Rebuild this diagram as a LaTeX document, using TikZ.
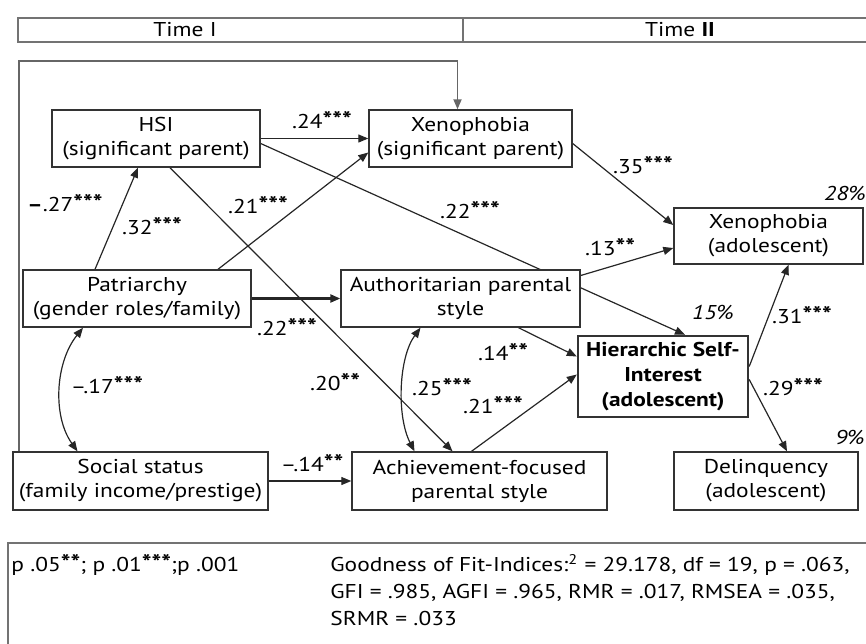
\documentclass[tikz,border=0pt]{standalone}
\usepackage{fontspec}
\setmainfont{PT Sans}[FakeStretch=1.17]
\usetikzlibrary{arrows.meta}
\usetikzlibrary{calc}
\pgfdeclarelayer{bg}
\pgfsetlayers{bg,main}

\newcommand\stars[1]{\raisebox{0.15ex}{\fontsize{11}{11}\selectfont\bfseries #1}}

\begin{document}
\begin{tikzpicture}[x=0.5pt,y=-0.5pt,
  box/.style={draw=black!80,fill=white,align=center,inner sep=0pt,line width=0.7pt,font=\fontsize{10}{12}\selectfont},
  effect/.style={draw=black!85,line width=0.6pt,-{Triangle[length=5pt,width=4pt]}},
  corr/.style={draw=black!85,line width=0.6pt,{Triangle[length=5pt,width=4pt]}-{Triangle[length=5pt,width=4pt]}},
  coef/.style={font=\fontsize{10}{12}\selectfont,inner sep=0pt},
  share/.style={font=\fontsize{10}{12}\selectfont\itshape,inner sep=0pt},
  lineframe/.style={draw=black!55,line width=0.7pt}]

\useasboundingbox (0,0) rectangle (866,643);

% time axis
\draw[lineframe] (866,18) -- (18,18) -- (18,42) -- (866,42);
\draw[lineframe] (463,18) -- (463,42);
\node[coef] (t1) at (185,30) {Time I};
\node[coef] (t2) at (680,30) {Time \textbf{II}};

% variables
\node[box,minimum width=104pt,minimum height=28.5pt] (hsi) at (156,138.5) {HSI\\(significant parent)};
\node[box,minimum width=101.5pt,minimum height=28.5pt] (xenop) at (470.5,138.5) {Xenophobia\\(significant parent)};
\node[box,minimum width=94.5pt,minimum height=28pt] (xenoa) at (768.5,236) {Xenophobia\\(adolescent)};
\node[box,minimum width=114pt,minimum height=28.5pt] (patr) at (137,298.5) {Patriarchy\\(gender roles/family)};
\node[box,minimum width=119.5pt,minimum height=28.5pt] (auth) at (460.5,298.5) {Authoritarian parental\\style};
\node[box,minimum width=85pt,minimum height=40.5pt,line width=1.2pt,font=\fontsize{10}{12.5}\selectfont\bfseries] (hsia) at (663,376.5) {Hierarchic Self-\\Interest\\(adolescent)};
\node[box,minimum width=127.5pt,minimum height=29pt] (soc) at (140.5,481) {Social status\\(family income/prestige)};
\node[box,minimum width=127.5pt,minimum height=29pt] (ach) at (479.5,481) {Achievement-focused\\parental style};
\node[box,minimum width=92pt,minimum height=29pt] (delin) at (766,481) {Delinquency\\(adolescent)};

% paths
\begin{pgfonlayer}{bg}
\draw[effect] (hsi.east) -- (xenop.west);
\draw[effect] ($(patr.north)+(81,0)$) -- ($(xenop.west)+(0,14)$);
\draw[effect] ($(hsi.east)+(0,5)$) -- ($(hsia.north)+(22,0)$);
\draw[effect] ($(patr.north)+(-42,0)$) -- ($(hsi.south)+(-18,0)$);
\draw[effect] ($(hsi.south)+(14,0)$) -- ($(ach.north)+(-27,0)$);
\draw[effect,line width=1.1pt] (patr.east) -- (auth.west);
\draw[corr] ($(patr.south)+(-54,0)$) .. controls +(-28,35) and +(-25,-35) .. ($(soc.north)+(-63,0)$);
\draw[corr] ($(auth.south)+(-40,0)$) .. controls +(-22,30) and +(-18,-35) .. ($(ach.north)+(-65,0)$);
\draw[effect] ($(auth.east)+(0,-23)$) -- ($(xenoa.west)+(0,12)$);
\draw[effect] ($(xenop.east)+(0,5)$) -- ($(xenoa.west)+(0,-11)$);
\draw[effect] ($(auth.south)+(58,0)$) -- ($(hsia.west)+(0,-20)$);
\draw[effect] ($(ach.north)+(-8,0)$) -- ($(hsia.west)+(0,-2)$);
\draw[effect] ($(hsia.east)+(0,-10)$) -- ($(xenoa.south)+(20,0)$);
\draw[effect] ($(hsia.east)+(0,3)$) -- ($(delin.north)+(21,0)$);
\draw[effect] (soc.east) -- (ach.west);
\draw[effect,draw=black!60,line width=0.9pt] ($(soc.north west)+(7,0)$) |- ($(xenop.north)+(-13,-48)$) -- ($(xenop.north)+(-13,0)$);
\end{pgfonlayer}

% coefficients
\node[coef] (c24) at (322,120) {.24\stars{***}};
\node[coef] (c27) at (65,203) {\textbf{–}.27\stars{***}};
\node[coef] (c32) at (152,226) {.32\stars{***}};
\node[coef] (c21a) at (258,205) {.21\stars{***}};
\node[coef] (c22a) at (470,210) {.22\stars{***}};
\node[coef] (c35) at (643,165) {.35\stars{***}};
\node[coef] (c22b) at (287,327) {.22\stars{***}};
\node[coef] (c20) at (335,382) {.20\stars{**}};
\node[coef] (c17) at (107,385) {–.17\stars{***}};
\node[coef] (c25) at (442,387) {.25\stars{***}};
\node[coef] (c13) at (610,247) {.13\stars{**}};
\node[coef] (c14a) at (503,352) {.14\stars{**}};
\node[coef] (c21b) at (493,405) {.21\stars{***}};
\node[coef] (c31) at (802,315) {.31\stars{***}};
\node[coef] (c29) at (793,387) {.29\stars{***}};
\node[coef] (c14b) at (312,463) {–.14\stars{**}};
\node[share] (r28) at (845,193) {28\%};
\node[share] (r15) at (713,312) {15\%};
\node[share] (r9) at (850,437) {9\%};

% legend
\draw[lineframe] (866,543) -- (8,543) -- (8,645);
\node[coef,anchor=west] (sig) at (11,565) {p .05\stars{**}; p .01\stars{***};p .001};
\node[coef,anchor=north west,align=left,font=\fontsize{10}{13.5}\selectfont] (fit) at (330,554)
  {Goodness of Fit-Indices:\textsuperscript{2} = 29.178, df = 19, p = .063,\\
   GFI = .985, AGFI = .965, RMR = .017, RMSEA = .035,\\
   SRMR = .033};

\end{tikzpicture}
\end{document}
